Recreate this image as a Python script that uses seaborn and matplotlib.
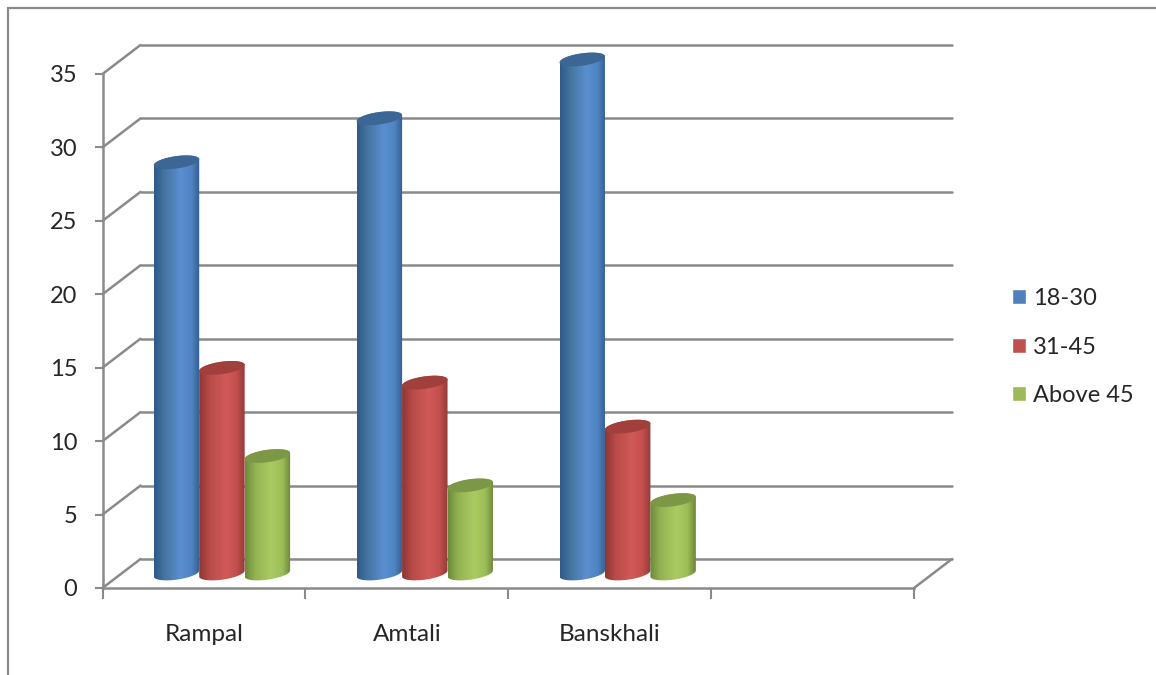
import numpy as np
import pandas as pd
import seaborn as sns
import matplotlib
matplotlib.use("Agg")
import matplotlib.pyplot as plt
from matplotlib.lines import Line2D
from matplotlib.patches import PathPatch
from matplotlib.path import Path
from matplotlib.colors import LinearSegmentedColormap
from matplotlib.transforms import Affine2D

# Survey respondents by age group and upazila
sites = ["Rampal", "Amtali", "Banskhali"]
age_18_30 = [28, 31, 35]
age_31_45 = [14, 13, 10]
age_above_45 = [8, 6, 5]
y_ticks = [0, 5, 10, 15, 20, 25, 30, 35]

groups = ["18-30", "31-45", "Above 45"]
colors = ["#4F81BD", "#C0504D", "#9BBB59"]
cap_colors = ["#3B6696", "#A13F3D", "#7C9746"]
shade_stops = [0.0, 0.22, 0.58, 0.82, 1.0]
shades = [
    ["#2F5A8A", "#44749F", "#5A8FD0", "#5085C2", "#335F92"],
    ["#8E3634", "#B84A47", "#D05A57", "#C4504D", "#933C3A"],
    ["#6E8A3A", "#93B353", "#AACB62", "#9DBD58", "#6C883A"],
]

W, H = 1156, 675
sns.set_theme(style="white")
plt.rcParams["font.family"] = ["Lato", "DejaVu Sans"]
text_color = "#262626"
line_color = "#8A8A8A"
font_size = 17

df = pd.DataFrame({
    "site": sites * 3,
    "group": np.repeat(groups, 3),
    "count": age_18_30 + age_31_45 + age_above_45,
})

fig = plt.figure(figsize=(W / 100, H / 100), dpi=100, facecolor="white")

# Front plane of the chart box carries the axes; the bars sit half way into its depth
left, right, bottom, top = 102.5, 914, 588, 74
depth_x, depth_y = 38, 29
x_lim = (-0.5, 3.5)
y_lim = (0, 35)
x_per_px = (x_lim[1] - x_lim[0]) / (right - left)
y_per_px = (y_lim[1] - y_lim[0]) / (bottom - top)


def plane(dx, dy, **kwargs):
    return fig.add_axes([(left + dx) / W, 1 - (bottom - dy) / H,
                         (right - left) / W, (bottom - top) / H], **kwargs)


ax = plane(0, 0)
ax.set_facecolor("none")
ax.set_xlim(*x_lim)
ax.set_ylim(*y_lim)
ax.set_yticks(y_ticks)
ax.set_xticks(np.arange(x_lim[0], x_lim[1] + 1, 1))
ax.set_xticks(range(len(sites)), labels=sites, minor=True)
ax.set_xticklabels([])
ax.tick_params(axis="y", length=6, width=1.5, color=line_color,
               labelsize=font_size, labelcolor=text_color, pad=12, left=True)
ax.tick_params(axis="x", which="major", length=8, width=1.5, color=line_color, bottom=True)
ax.tick_params(axis="x", which="minor", length=0, labelsize=font_size + 0.5,
               labelcolor=text_color, pad=26)
for name, spine in ax.spines.items():
    spine.set_visible(name in ("left", "bottom"))
    spine.set_color(line_color)
    spine.set_linewidth(1.8)

# Walls and floor, pushed back along the depth direction
back = ax.transData + Affine2D().translate(depth_x, depth_y)
depth_kw = dict(color=line_color, lw=1.8, clip_on=False, solid_capstyle="round")
for v in y_ticks:
    ax.add_line(Line2D(list(x_lim), [v, v], transform=back, **depth_kw))
    ax.plot([x_lim[0], x_lim[0] + depth_x * x_per_px], [v, v + depth_y * y_per_px], **depth_kw)
ax.plot([x_lim[1], x_lim[1] + depth_x * x_per_px], [0, depth_y * y_per_px], **depth_kw)
ax.set_xlim(*x_lim)
ax.set_ylim(*y_lim)

# Bars
bar_ax = plane(depth_x / 2 - 1, depth_y / 2)
bar_ax.set_facecolor("none")
sns.barplot(data=df, x="site", y="count", hue="group", order=sites, hue_order=groups,
            palette=colors, width=0.672, gap=0, saturation=1, ax=bar_ax)
bar_ax.set_xlim(*x_lim)
bar_ax.set_ylim(*y_lim)
sns.move_legend(bar_ax, "center left", bbox_to_anchor=(1012 / W, 1 - 347 / H),
                bbox_transform=fig.transFigure, frameon=False, title=None,
                fontsize=font_size, labelcolor=text_color, handlelength=0.6,
                handleheight=0.6, handletextpad=0.3, labelspacing=1.16,
                borderpad=0, borderaxespad=0)
bar_ax.set_axis_off()

# Each bar is redrawn as a shaded cylinder with a slightly tilted elliptical cap
ell_h = 6.2 * y_per_px
tilt = 3.0 * y_per_px
bars = sorted([p for p in bar_ax.patches if p.get_height() > 0],
              key=lambda p: p.get_x())


def rim(xc, half, base, theta):
    return np.column_stack([xc + half * np.cos(theta),
                            base + ell_h * np.sin(theta) + tilt * np.cos(theta)])


for bar in bars:
    idx = colors.index(matplotlib.colors.to_hex(bar.get_facecolor()).upper())
    x0, w, h = bar.get_x(), bar.get_width(), bar.get_height()
    xc, half = x0 + w / 2, w / 2
    z = 3 + x0
    lower = rim(xc, half, 0, np.linspace(np.pi, 2 * np.pi, 40))
    upper = rim(xc, half, h, np.linspace(0, np.pi, 40))
    verts = np.vstack([lower, upper, lower[:1]])
    body = PathPatch(Path(verts, closed=True), transform=bar_ax.transData, fc="none", ec="none")
    cmap = LinearSegmentedColormap.from_list(f"cyl{idx}", list(zip(shade_stops, shades[idx])))
    im = bar_ax.imshow(np.linspace(0, 1, 64)[None, :], cmap=cmap, aspect="auto",
                       extent=[x0, x0 + w, -ell_h - tilt, h + ell_h + tilt], zorder=z)
    im.set_clip_box(fig.bbox)
    im.set_clip_path(body)
    cap = rim(xc, half, h, np.linspace(0, 2 * np.pi, 80))
    bar_ax.add_patch(PathPatch(Path(cap, closed=True), fc=cap_colors[idx], ec="none",
                               zorder=z + 0.01, clip_on=False))
    bar.set_visible(False)
bar_ax.set_xlim(*x_lim)
bar_ax.set_ylim(*y_lim)

# Outer frame of the chart area
frame_kw = dict(color=line_color, lw=1.6, transform=fig.transFigure)
fig.add_artist(Line2D([8 / W, 8 / W], [0, 1 - 8 / H], **frame_kw))
fig.add_artist(Line2D([8 / W, 1], [1 - 8 / H, 1 - 8 / H], **frame_kw))

fig.savefig("out.png", dpi=100, facecolor="white")
